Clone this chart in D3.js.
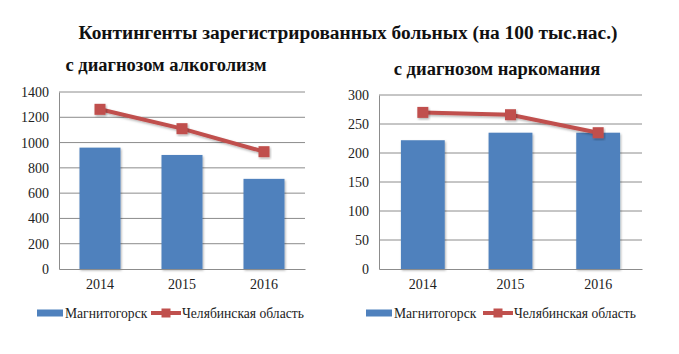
<!DOCTYPE html>
<html lang="ru">
<head>
<meta charset="UTF-8">
<title>Контингенты зарегистрированных больных</title>
<script src="https://d3js.org/d3.v7.min.js"></script>
<style>
  body { margin: 0; background: #fff; }
  svg text { font-family: "Liberation Serif", "Times New Roman", "DejaVu Serif", serif !important; }
  .title { font-weight: bold; font-size: 19.4px; fill: #111; }
  .sub { font-weight: bold; font-size: 18.5px; fill: #111; }
  .tick text { font-size: 14px; fill: #222; }
  .legend text { font-size: 13.6px; fill: #222; }
</style>
</head>
<body>
<div id="chart"></div>
<script>
// данные
var years = ["2014", "2015", "2016"];
var seriesNames = ["Магнитогорск", "Челябинская область"];

var alcoCity = [960, 902, 713];
var alcoRegion = [1263, 1110, 928];
var alcoTicks = [0, 200, 400, 600, 800, 1000, 1200, 1400];

var narcoCity = [222, 235, 235];
var narcoRegion = [270, 266, 235];
var narcoTicks = [0, 50, 100, 150, 200, 250, 300];

var width = 679, height = 354;
var blue = "#4F81BD", red = "#C0504D";

var svg = d3.select("#chart").append("svg")
  .attr("width", width)
  .attr("height", height);

var defs = svg.append("defs");
var f = defs.append("filter").attr("id", "shadow").attr("x", "-20%").attr("y", "-20%").attr("width", "140%").attr("height", "140%");
f.append("feDropShadow").attr("dx", 1).attr("dy", 1.5).attr("stdDeviation", 1.2).attr("flood-color", "#000").attr("flood-opacity", 0.3);

svg.append("text").attr("class", "title")
  .attr("x", 348).attr("y", 39).attr("text-anchor", "middle")
  .text("Контингенты зарегистрированных больных (на 100 тыс.нас.)");

function drawPanel(opt) {
  var g = svg.append("g");

  g.append("text").attr("class", "sub")
    .attr("x", opt.subX).attr("y", opt.subY).attr("text-anchor", "middle")
    .text(opt.subtitle);

  var x = d3.scaleBand().domain(years).range([opt.left, opt.right]).paddingInner(0).paddingOuter(0);
  var y = d3.scaleLinear().domain([0, opt.max]).range([opt.bottom, opt.top]);

  // сетка
  g.append("g").selectAll("line").data(opt.ticks.slice(1)).enter().append("line")
    .attr("x1", opt.left).attr("x2", opt.right)
    .attr("y1", function (d) { return y(d); }).attr("y2", function (d) { return y(d); })
    .attr("stroke", "#8c8c8c").attr("stroke-width", 1);

  // ось Y
  var ay = g.append("g").attr("transform", "translate(" + opt.left + ",0)")
    .call(d3.axisLeft(y).tickValues(opt.ticks).tickFormat(d3.format("d")).tickSize(0).tickPadding(10));
  ay.select(".domain").attr("stroke", "#8c8c8c");

  // столбцы
  g.append("g").selectAll("rect").data(opt.city).enter().append("rect")
    .attr("x", function (d, i) { return x(years[i]) + x.bandwidth() * 0.25; })
    .attr("width", x.bandwidth() * 0.5)
    .attr("y", function (d) { return y(d); })
    .attr("height", function (d) { return y(0) - y(d); })
    .attr("fill", blue)
    .attr("filter", "url(#shadow)");

  // ось X
  var ax = g.append("g").attr("transform", "translate(0," + opt.bottom + ")")
    .call(d3.axisBottom(x).tickSize(0).tickPadding(10));
  ax.select(".domain").attr("stroke", "#8c8c8c");

  // линия
  var line = d3.line()
    .x(function (d, i) { return x(years[i]) + x.bandwidth() / 2; })
    .y(function (d) { return y(d); });
  g.append("path").datum(opt.region)
    .attr("d", line).attr("fill", "none")
    .attr("stroke", red).attr("stroke-width", 4)
    .attr("filter", "url(#shadow)");
  g.append("g").selectAll("rect").data(opt.region).enter().append("rect")
    .attr("x", function (d, i) { return x(years[i]) + x.bandwidth() / 2 - 5.5; })
    .attr("y", function (d) { return y(d) - 5.5; })
    .attr("width", 11).attr("height", 11)
    .attr("fill", red)
    .attr("filter", "url(#shadow)");

  // легенда
  var lg = g.append("g").attr("class", "legend").attr("transform", "translate(0," + opt.legY + ")");
  lg.append("rect").attr("x", opt.legX).attr("y", -3.5).attr("width", 26).attr("height", 7).attr("fill", blue);
  lg.append("text").attr("x", opt.legX + 28).attr("y", 4.5).text(seriesNames[0]);
  lg.append("line").attr("x1", opt.legX2).attr("x2", opt.legX2 + 30).attr("y1", 0).attr("y2", 0)
    .attr("stroke", red).attr("stroke-width", 4);
  lg.append("rect").attr("x", opt.legX2 + 10.5).attr("y", -4.5).attr("width", 9).attr("height", 9).attr("fill", red);
  lg.append("text").attr("x", opt.legX2 + 31).attr("y", 4.5).text(seriesNames[1]);
}

drawPanel({
  subtitle: "с диагнозом алкоголизм", subX: 166, subY: 71,
  left: 59, right: 305, top: 92, bottom: 269, max: 1400, ticks: alcoTicks,
  city: alcoCity, region: alcoRegion,
  legY: 313, legX: 37, legX2: 151
});

drawPanel({
  subtitle: "с диагнозом наркомания", subX: 497, subY: 75,
  left: 379, right: 642, top: 95, bottom: 269, max: 300, ticks: narcoTicks,
  city: narcoCity, region: narcoRegion,
  legY: 313, legX: 366, legX2: 483
});
</script>
</body>
</html>
